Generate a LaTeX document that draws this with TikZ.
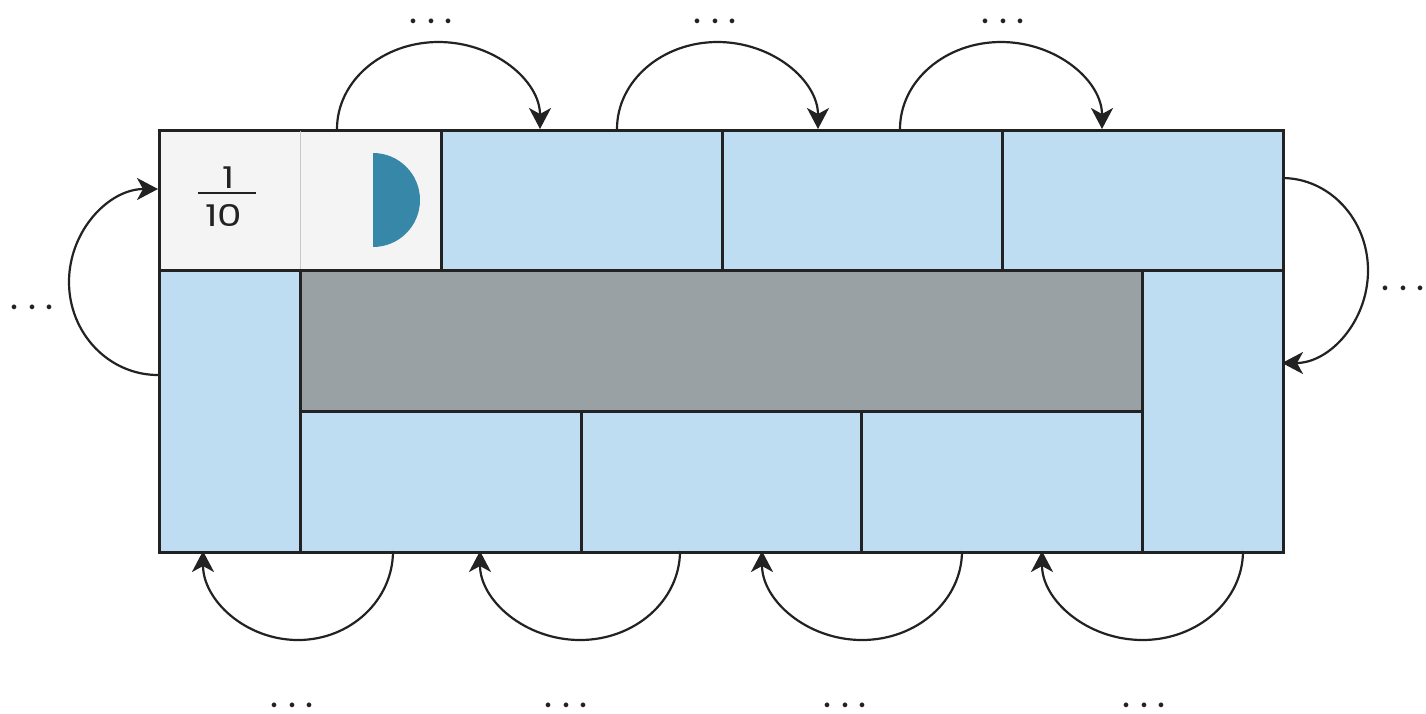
\documentclass[tikz,border=0pt]{standalone}
\usepackage{fontspec}
\setmainfont{Poppins}
\usetikzlibrary{arrows.meta}
\definecolor{cellblue}{HTML}{BEDCF2}
\definecolor{cellgray}{HTML}{9AA1A4}
\definecolor{celllight}{HTML}{F4F4F4}
\definecolor{divgray}{HTML}{C8C8C8}
\definecolor{discblue}{HTML}{3787A8}
\definecolor{ink}{HTML}{222222}
\newcommand\mydots{.\hspace{10pt}.\hspace{10pt}.}
\begin{document}
\begin{tikzpicture}[x=1pt,y=-1pt,
  cellbox/.style={draw=ink,line width=2.5pt,rectangle,inner sep=0pt,anchor=north west},
  bluecell/.style={cellbox,fill=cellblue},
  flow/.style={draw=ink,line width=2.2pt,-{Stealth[length=21pt,width=22pt,inset=6pt]}},
  dotlabel/.style={inner sep=0pt,font=\fontsize{38}{38}\selectfont,text=ink},
  digit/.style={inner sep=0pt,font=\fontsize{30}{30}\selectfont,text=ink}]
\fill[white] (0,0) rectangle (1426,713);
% cells
\node[cellbox,fill=celllight,minimum width=282pt,minimum height=140pt] (tl) at (158,129) {};
\draw[divgray,line width=1.5pt] ([yshift=-1.5pt]tl.north) -- ([yshift=1.5pt]tl.south);
\node[bluecell,minimum width=281pt,minimum height=140pt] (t3) at (440,129) {};
\node[bluecell,minimum width=280pt,minimum height=140pt] (t4) at (721,129) {};
\node[bluecell,minimum width=281pt,minimum height=140pt] (t5) at (1001,129) {};
\node[bluecell,minimum width=141pt,minimum height=282pt] (lc) at (158,269) {};
\node[cellbox,fill=cellgray,minimum width=842pt,minimum height=141pt] (g) at (299,269) {};
\node[bluecell,minimum width=281pt,minimum height=141pt] (b1) at (299,410) {};
\node[bluecell,minimum width=280pt,minimum height=141pt] (b2) at (580,410) {};
\node[bluecell,minimum width=281pt,minimum height=141pt] (b3) at (860,410) {};
\node[bluecell,minimum width=141pt,minimum height=282pt] (rc) at (1141,269) {};
% fraction
\node[digit] (one) at (228,178) {\scalebox{1.25}[1]{1}};
\node[digit] (ten) at (224,215) {\scalebox{1.3}[1]{10}};
\coordinate (fl) at (198,193);
\coordinate (fr) at (256,193);
\draw[ink,line width=2.2pt] (fl) -- (fr);
% half disc
\coordinate (hd) at (373,153);
\fill[discblue] (hd) arc[start angle=-90,end angle=90,radius=47] -- cycle;
% arc endpoints
\coordinate (a1) at (337,129);
\coordinate (a2) at (617,129);
\coordinate (a3) at (900,129);
\coordinate (ar) at (1282,178);
\coordinate (e1) at (393,551);
\coordinate (e2) at (680,551);
\coordinate (e3) at (962,551);
\coordinate (e4) at (1243,551);
\coordinate (al) at (158,375);
% top arcs
\draw[flow] (a1) arc[start angle=180,end angle=360,x radius=101.5,y radius=87];
\draw[flow] (a2) arc[start angle=180,end angle=360,x radius=100.5,y radius=87];
\draw[flow] (a3) arc[start angle=180,end angle=360,x radius=101,y radius=87];
% right arc
\draw[flow] (ar) arc[start angle=-90,end angle=90,x radius=86,y radius=92.5];
% bottom arcs
\draw[flow] (e1) arc[start angle=0,end angle=180,x radius=95,y radius=89];
\draw[flow] (e2) arc[start angle=0,end angle=180,x radius=100,y radius=89];
\draw[flow] (e3) arc[start angle=0,end angle=180,x radius=100,y radius=89];
\draw[flow] (e4) arc[start angle=0,end angle=180,x radius=100.5,y radius=89];
% left arc
\draw[flow] (al) arc[start angle=90,end angle=270,x radius=89,y radius=93];
% dots
\node[dotlabel] (d1) at (431,21) {\mydots};
\node[dotlabel] (d2) at (715,21) {\mydots};
\node[dotlabel] (d3) at (1003,21) {\mydots};
\node[dotlabel] (dl) at (32,307) {\mydots};
\node[dotlabel] (dr) at (1403,288) {\mydots};
\node[dotlabel] (db1) at (292,705) {\mydots};
\node[dotlabel] (db2) at (566,705) {\mydots};
\node[dotlabel] (db3) at (845,705) {\mydots};
\node[dotlabel] (db4) at (1144,705) {\mydots};
\end{tikzpicture}
\end{document}
